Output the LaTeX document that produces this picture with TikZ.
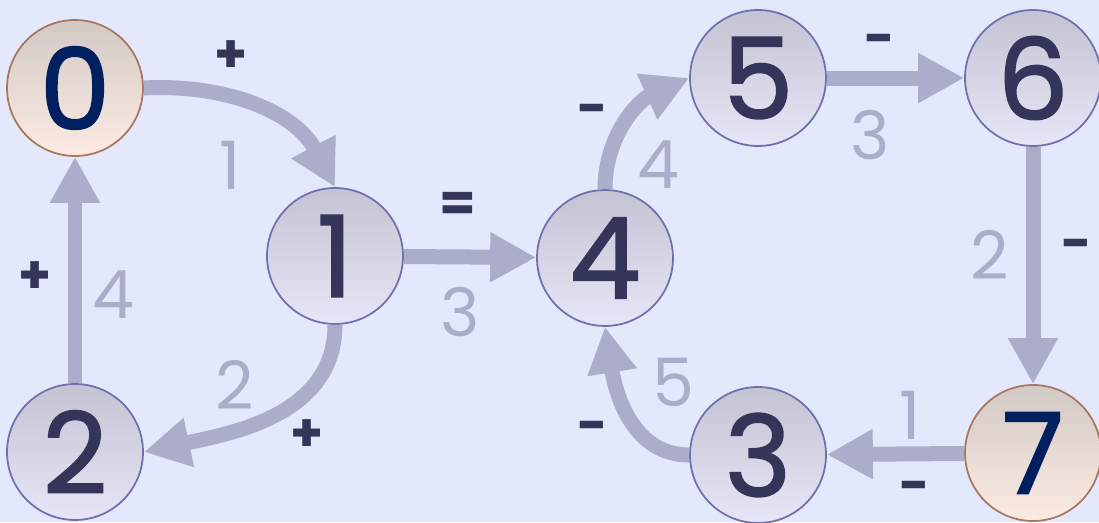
\documentclass[tikz,border=0pt]{standalone}
\usepackage{fontspec}
\setmainfont{Poppins}
\newfontfamily\numfont{Poppins}[FakeBold=1.6]
\usetikzlibrary{arrows.meta}

\definecolor{bgcol}{HTML}{E4E8FD}
\definecolor{edgecol}{HTML}{ABADCB}
\definecolor{darkcol}{HTML}{35355A}
\definecolor{navycol}{HTML}{002060}
\definecolor{rimcol}{HTML}{7070AE}
\definecolor{brncol}{HTML}{A8785E}
\definecolor{greytop}{HTML}{C3C3D3}
\definecolor{greybot}{HTML}{E6E6F8}
\definecolor{peachtop}{HTML}{D2C9C5}
\definecolor{peachbot}{HTML}{FDEBE3}

\begin{document}
\begin{tikzpicture}[
    x=0.02cm, y=0.02cm,
    state/.style={circle, draw=rimcol, line width=1pt, top color=greytop, bottom color=greybot,
      minimum size=2.72cm, inner sep=0pt, text=darkcol, font=\fontsize{64}{64}\numfont},
    term/.style={state, draw=brncol, top color=peachtop, bottom color=peachbot, text=navycol},
    link/.style={-{Triangle[length=0.92cm, width=0.94cm]}, line width=0.3cm, draw=edgecol},
    wt/.style={text=edgecol, font=\fontsize{38}{38}\selectfont},
    sgn/.style={text=darkcol, font=\fontsize{30}{30}\selectfont\bfseries}
]

% Background
\fill[bgcol] (0,0) rectangle (1099,522);
\useasboundingbox (0,0) rectangle (1099,522);

% States
\node[term]  (n0) at (75, 434) {0};
\node[state] (n1) at (335, 266) {1};
\node[state] (n2) at (75, 70) {2};
\node[state] (n4) at (605, 264) {4};
\node[state] (n5) at (758, 444) {5};
\node[state] (n6) at (1033, 444) {6};
\node[term]  (n7) at (1033, 69) {7};
\node[state] (n3) at (758, 67) {3};

% Left loop
\draw[link] (n0.east) to[out=3, in=118] (n1.north);
\draw[link] (n1.south) to[out=-90, in=12] (n2.east);
\draw[link] (n2) -- (n0);
\node[sgn] (s01) at (231, 465) {+};
\node[wt]  (w01) at (230, 357) {1};
\node[sgn] (s12) at (307, 86) {+};
\node[wt]  (w12) at (235, 137) {2};
\node[sgn] (s20) at (35, 244) {+};
\node[wt]  (w20) at (113, 227) {4};

% Bridge
\draw[link] (n1) -- (n4);
\node[sgn] (s14) at (458, 315) {=};
\node[wt]  (w14) at (460, 210) {3};

% Right loop
\draw[link] (n4.north) to[out=90, in=-156] (n5.west);
\draw[link] (n5) -- (n6);
\draw[link] (n6) -- (n7);
\draw[link] (n7) -- (n3);
\draw[link] (n3.west) to[out=180, in=-81] (n4.south);
\node[sgn] (s45) at (593, 407) {-};
\node[wt]  (w45) at (658, 357) {4};
\node[sgn] (s56) at (880, 477) {-};
\node[wt]  (w56) at (870, 387) {3};
\node[sgn] (s67) at (1077, 272) {-};
\node[wt]  (w67) at (990, 267) {2};
\node[sgn] (s73) at (915, 30) {-};
\node[wt]  (w73) at (910, 107) {1};
\node[sgn] (s34) at (593, 90) {-};
\node[wt]  (w34) at (673, 140) {5};

\end{tikzpicture}
\end{document}
